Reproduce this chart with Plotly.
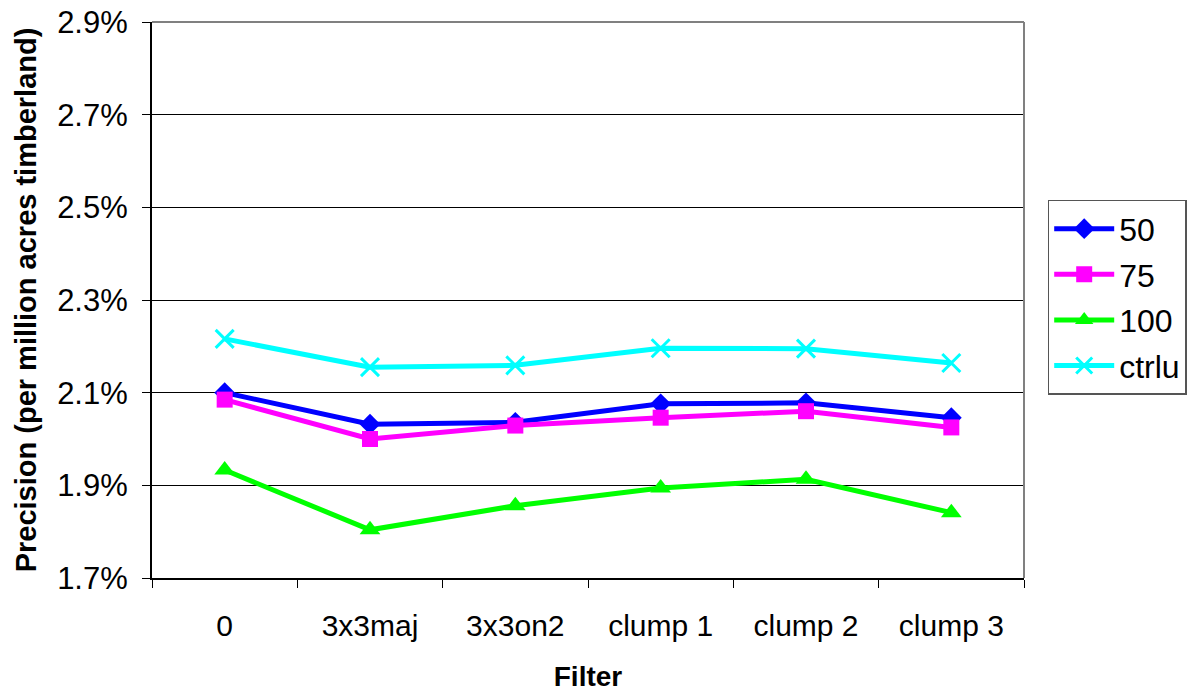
import plotly.graph_objects as go

categories = ["0", "3x3maj", "3x3on2", "clump 1", "clump 2", "clump 3"]
s50 = [2.100, 2.032, 2.036, 2.076, 2.078, 2.046]
s75 = [2.085, 2.000, 2.029, 2.046, 2.060, 2.025]
s100 = [1.933, 1.804, 1.856, 1.894, 1.913, 1.841]
ctrlu = [2.216, 2.155, 2.159, 2.196, 2.195, 2.164]
names = ["50", "75", "100", "ctrlu"]
colors = ["#0000FF", "#FF00FF", "#00FF00", "#00FFFF"]
symbols = ["diamond", "square", "triangle-up", "x-thin-open"]
sizes = [16, 16, 18, 18]
series = [s50, s75, s100, ctrlu]

fig = go.Figure()
for name, vals, col, sym, sz in zip(names, series, colors, symbols, sizes):
    marker = dict(symbol=sym, size=sz, color=col)
    if sym == "x-thin-open":
        marker["line"] = dict(color=col, width=3)
    fig.add_trace(go.Scatter(
        x=categories, y=[v / 100 for v in vals], name=name, mode="lines+markers",
        line=dict(color=col, width=5), marker=marker, legendgroup=name,
    ))

fig.update_layout(
    width=1198, height=692,
    margin=dict(l=152, r=173, t=22, b=114),
    paper_bgcolor="white", plot_bgcolor="white",
    font=dict(family="Arial, Liberation Sans, sans-serif", color="black"),
    showlegend=True,
    legend=dict(
        x=1.026, y=0.68, xanchor="left", yanchor="top",
        bordercolor="#555555", borderwidth=1.5,
        font=dict(size=32), itemwidth=60, tracegroupgap=1,
    ),
)
fig.update_xaxes(
    type="category", range=[-0.5, 5.5], automargin=False,
    showline=True, linecolor="black", linewidth=2, mirror=False,
    ticks="outside", ticklen=8, tickcolor="black", tickson="boundaries",
    showgrid=False, tickfont=dict(size=30), ticklabelstandoff=20,
    title=dict(text="<b>Filter</b>", font=dict(size=28), standoff=28),
)
fig.update_yaxes(
    range=[0.017, 0.029], tick0=0.017, dtick=0.002, tickformat=".1%",
    automargin=False,
    showline=True, linecolor="black", linewidth=2,
    ticks="outside", ticklen=8, tickcolor="black",
    showgrid=True, gridcolor="black", gridwidth=1,
    tickfont=dict(size=31), zeroline=False, ticklabelstandoff=8,
    title=dict(text="<b>Precision (per million acres timberland)</b>", font=dict(size=29), standoff=12),
)
# grey top/right frame
fig.add_shape(type="line", xref="paper", yref="paper", x0=0, x1=1, y0=1, y1=1,
              line=dict(color="#808080", width=2))
fig.add_shape(type="line", xref="paper", yref="paper", x0=1, x1=1, y0=0, y1=1,
              line=dict(color="#808080", width=2))

fig.write_html("out.html")
